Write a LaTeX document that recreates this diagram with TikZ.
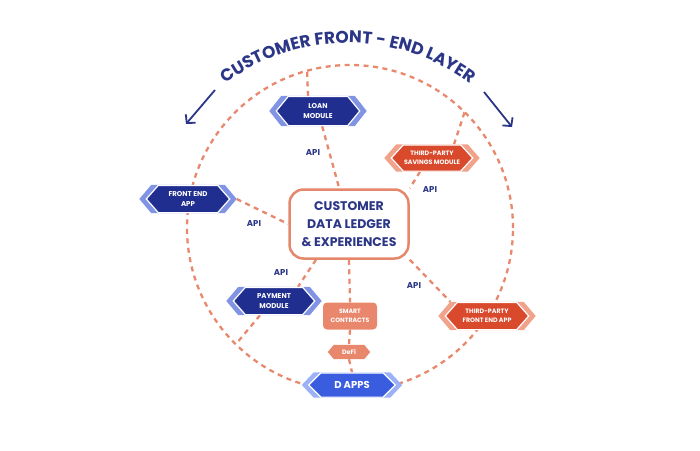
\documentclass[tikz,border=0pt]{standalone}
\usepackage{fontspec}
\setmainfont{Poppins}
\usetikzlibrary{calc,backgrounds,decorations.text,arrows.meta}
\definecolor{navy}{HTML}{1F2E8F}
\definecolor{navytxt}{HTML}{2B3687}
\definecolor{rimblue}{HTML}{8094E3}
\definecolor{dblue}{HTML}{3A5DE0}
\definecolor{rimdblue}{HTML}{9DB1F6}
\definecolor{redfill}{HTML}{D94A2C}
\definecolor{rimred}{HTML}{F0A28A}
\definecolor{salmon}{HTML}{E9876D}
\definecolor{dashcol}{HTML}{E8886C}
\definecolor{boxcol}{HTML}{E4876A}

% #1 name, #2 rim colour, #3 fill colour, #4 slant, #5 inset
\newcommand\hexbg[5]{%
  \fill[#2] (#1.west) -- ($(#1.north west)+(#4,0)$) -- ($(#1.north east)+(-#4,0)$)
    -- (#1.east) -- ($(#1.south east)+(-#4,0)$) -- ($(#1.south west)+(#4,0)$) -- cycle;
  \filldraw[fill=#3, draw=white, line width=1.2pt] ($(#1.west)+(#5,0)$)
    -- ($(#1.north west)+(#5+#4,0.6)$) -- ($(#1.north east)+(-#5-#4,0.6)$)
    -- ($(#1.east)+(-#5,0)$) -- ($(#1.south east)+(-#5-#4,-0.6)$)
    -- ($(#1.south west)+(#5+#4,-0.6)$) -- cycle;
}
\newcommand\hexsolid[3]{%
  \fill[#2] (#1.west) -- ($(#1.north west)+(#3,0)$) -- ($(#1.north east)+(-#3,0)$)
    -- (#1.east) -- ($(#1.south east)+(-#3,0)$) -- ($(#1.south west)+(#3,0)$) -- cycle;
}
\newcommand\titlefont{\bfseries\fontsize{17}{17}\selectfont}

\tikzset{
  dl/.style={draw=dashcol, line width=2.3pt, dash pattern=on 5pt off 4.5pt},
  hexlab/.style={inner sep=0pt, align=center, text=white,
    font=\bfseries\fontsize{7}{10}\selectfont},
  hexsmall/.style={hexlab, font=\bfseries\fontsize{6.3}{9}\selectfont},
  apilab/.style={text=navytxt, inner sep=0pt, font=\bfseries\fontsize{8.5}{10}\selectfont},
  cdlbox/.style={draw=boxcol, line width=2.5pt, rounded corners=14pt, fill=white,
    minimum width=119pt, minimum height=69pt, align=center, text=navytxt,
    font=\bfseries\fontsize{12.5}{18}\selectfont},
  scbox/.style={fill=salmon, rounded corners=4pt, minimum width=54pt, minimum height=27pt,
    inner sep=0pt, align=center, text=white, font=\bfseries\fontsize{6.2}{8.5}\selectfont},
  titlearrow/.style={draw=navytxt, line width=1.8pt, -{Straight Barb[length=6pt, width=13pt]}},
}

\begin{document}
\begin{tikzpicture}[x=1pt,y=-1pt]
\useasboundingbox (0,0) rectangle (700,450);

% ---- nodes
\node[cdlbox] (cdl) at (349,224) {CUSTOMER\\DATA LEDGER\\\& EXPERIENCES};
\node[hexlab, minimum width=97pt, minimum height=30pt] (loan) at (318,111) {LOAN\\MODULE};
\node[hexlab, minimum width=97pt, minimum height=28pt] (fea) at (188,199) {FRONT END\\APP};
\node[hexlab, minimum width=95pt, minimum height=28pt] (pay) at (274,301) {PAYMENT\\MODULE};
\node[hexsmall, minimum width=95pt, minimum height=27pt] (sav) at (432,158) {THIRD-PARTY\\SAVINGS MODULE};
\node[hexsmall, minimum width=97pt, minimum height=28pt] (tpfe) at (487,316) {THIRD-PARTY\\FRONT END APP};
\node[hexlab, font=\bfseries\fontsize{10}{12}\selectfont, minimum width=100pt, minimum height=25pt] (dapps) at (352,385) {D APPS};
\node[scbox] (sc) at (350,316) {SMART\\CONTRACTS};
\node[hexlab, font=\bfseries\fontsize{6.3}{8}\selectfont, minimum width=42pt, minimum height=14pt] (defi) at (349,352) {DeFi};

% ---- API labels
\node[apilab] (api1) at (313,153) {API};
\node[apilab] (api2) at (254,224) {API};
\node[apilab] (api3) at (430,190) {API};
\node[apilab] (api4) at (281,273) {API};
\node[apilab] (api5) at (414,286) {API};

% ---- title
\path[decorate, decoration={text along path, text color=navytxt,
    text={|\titlefont|CUSTOMER FRONT - END LAYER}, text align=center}]
  ($(348,248)+(140:205pt)$) arc[start angle=140, end angle=40, radius=205pt];
\coordinate (la1) at (215,90);
\coordinate (la2) at (186,124);
\coordinate (ra1) at (484,92);
\coordinate (ra2) at (512,127);
\draw[titlearrow] (la1) -- (la2);
\draw[titlearrow] (ra1) -- (ra2);

% ---- connectors and shapes behind
\begin{pgfonlayer}{background}
\draw[dl] (350,228) circle (163pt);
\coordinate (ctop) at (307,69);
\coordinate (cright) at (465,111);
\coordinate (cleft) at (236,344);
\draw[dl] ($(loan.north)+(-10,0)$) -- (ctop);
\draw[dl] (loan) -- (cdl);
\draw[dl] ($(sav.north)+(22,0)$) -- (cright);
\draw[dl] ($(sav.south)+(-12,0)$) -- (cdl.north east);
\draw[dl] (fea.east) -- (cdl.west);
\draw[dl] ($(cdl.south)+(-33,0)$) -- ($(pay.north)+(24,0)$);
\draw[dl] ($(pay.south)+(-14,0)$) -- (cleft);
\draw[dl] (cdl.south east) -- ($(tpfe.north west)+(12,0)$);
\draw[dl] (cdl.south) -- (sc.north);
\draw[dl] (sc.south) -- (defi.north);
\draw[dl] (defi.south) -- (dapps.north);
\hexbg{loan}{rimblue}{navy}{12}{7}
\hexbg{fea}{rimblue}{navy}{12}{7}
\hexbg{pay}{rimblue}{navy}{12}{7}
\hexbg{sav}{rimred}{redfill}{12}{7}
\hexbg{tpfe}{rimred}{redfill}{12}{7}
\hexbg{dapps}{rimdblue}{dblue}{12}{7}
\hexsolid{defi}{salmon}{6}
\end{pgfonlayer}
\end{tikzpicture}
\end{document}
